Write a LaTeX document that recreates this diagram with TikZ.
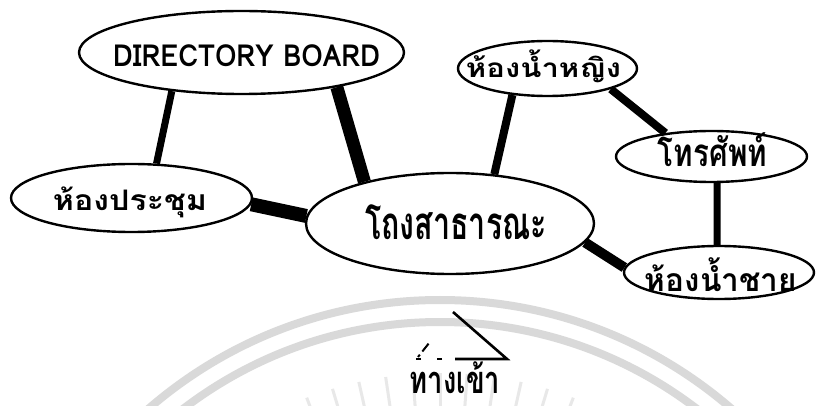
\documentclass[tikz,border=0pt]{standalone}
\usepackage{fontspec}
\usepackage{graphicx}
\newfontfamily\thaifont[Script=Thai]{Loma}
\usetikzlibrary{shapes.geometric}
\tikzset{
  place/.style={ellipse, draw=black, line width=2.4pt, inner sep=0pt},
  txt/.style={inner sep=0pt, outer sep=0pt},
  link/.style={draw=black, line cap=butt},
  wmark/.style={draw=black!15, line width=8pt},
  wray/.style={draw=black!9, line width=3pt},
  door/.style={draw=black, line width=2.6pt},
  doordash/.style={draw=black, line width=2pt},
}
\newcommand{\lbl}[3]{\resizebox*{#1pt}{#2pt}{\thaifont\bfseries #3}}
\begin{document}
\begin{tikzpicture}[x=1pt,y=-1pt]
\useasboundingbox[fill=white] (0,0) rectangle (817,406);
% faint watermark
\draw[wmark] (440,745) circle [radius=445pt];
\draw[wmark] (440,745) circle [radius=423pt];
\foreach \a in {-21,-16.8,-12.6,-8.4,-4.2,0,4.2,8.4,12.6,16.8,21}
  \draw[wray] ({440+372*sin(\a)},{745-372*cos(\a)}) -- ({440+320*sin(\a)},{745-320*cos(\a)});
% places
\node[place, minimum width=325pt, minimum height=83pt] (db) at (241.5,52.5) {};
\node[place, minimum width=241pt, minimum height=68pt] (meet) at (131.5,198) {};
\node[place, minimum width=288pt, minimum height=101pt] (hall) at (450,223.5) {};
\node[place, minimum width=179pt, minimum height=55pt] (wf) at (547.5,68.5) {};
\node[place, minimum width=191pt, minimum height=51pt] (tel) at (711.5,156.5) {};
\node[place, minimum width=190pt, minimum height=53pt] (mr) at (719,272.5) {};
% labels
\node[txt] (dbl) at (246.5,56) {\lbl{267}{22}{DIRECTORY BOARD}};
\node[txt] (meetl) at (130,202.5) {\lbl{154}{31}{ห้องประชุม}};
\node[txt] (halll) at (456,222.5) {\lbl{182}{35}{โถงสาธารณะ}};
\node[txt] (wfl) at (543.5,66.5) {\lbl{155}{33}{ห้องน้ำหญิง}};
\node[txt] (tell) at (712.5,150) {\lbl{109}{34}{โทรศัพท์}};
\node[txt] (mrl) at (721,275) {\lbl{152}{34}{ห้องน้ำชาย}};
% connectors
\draw[link, line width=7pt] (db.-151) -- (meet.54);
\draw[link, line width=13pt] (db.-20) -- (hall.154);
\draw[link, line width=14pt] (meet.-3) -- (hall.177);
\draw[link, line width=8pt] (hall.48) -- (wf.-143);
\draw[link, line width=8pt] (wf.-18) -- (tel.153);
\draw[link, line width=7pt] (tel.-78) -- (mr.94);
\draw[link, line width=10pt] (hall.-8) -- (mr.177);
% entrance
\coordinate (apex) at (453,312);
\coordinate (dr) at (507,359);
\coordinate (dl) at (455,359);
\coordinate (de) at (416,359);
\coordinate (ds) at (418,357);
\coordinate (dt) at (433,338);
\draw[door, line join=miter] (apex) -- (dr) -- (dl);
\draw[doordash, dash pattern=on 0pt off 13pt on 5pt off 16pt on 5pt off 20pt] (dl) -- (de);
\draw[doordash, dash pattern=on 3pt off 4pt on 10pt off 20pt] (ds) -- (dt);
\node[txt] (entl) at (455,378) {\lbl{90}{32}{ทางเข้า}};
\end{tikzpicture}
\end{document}
